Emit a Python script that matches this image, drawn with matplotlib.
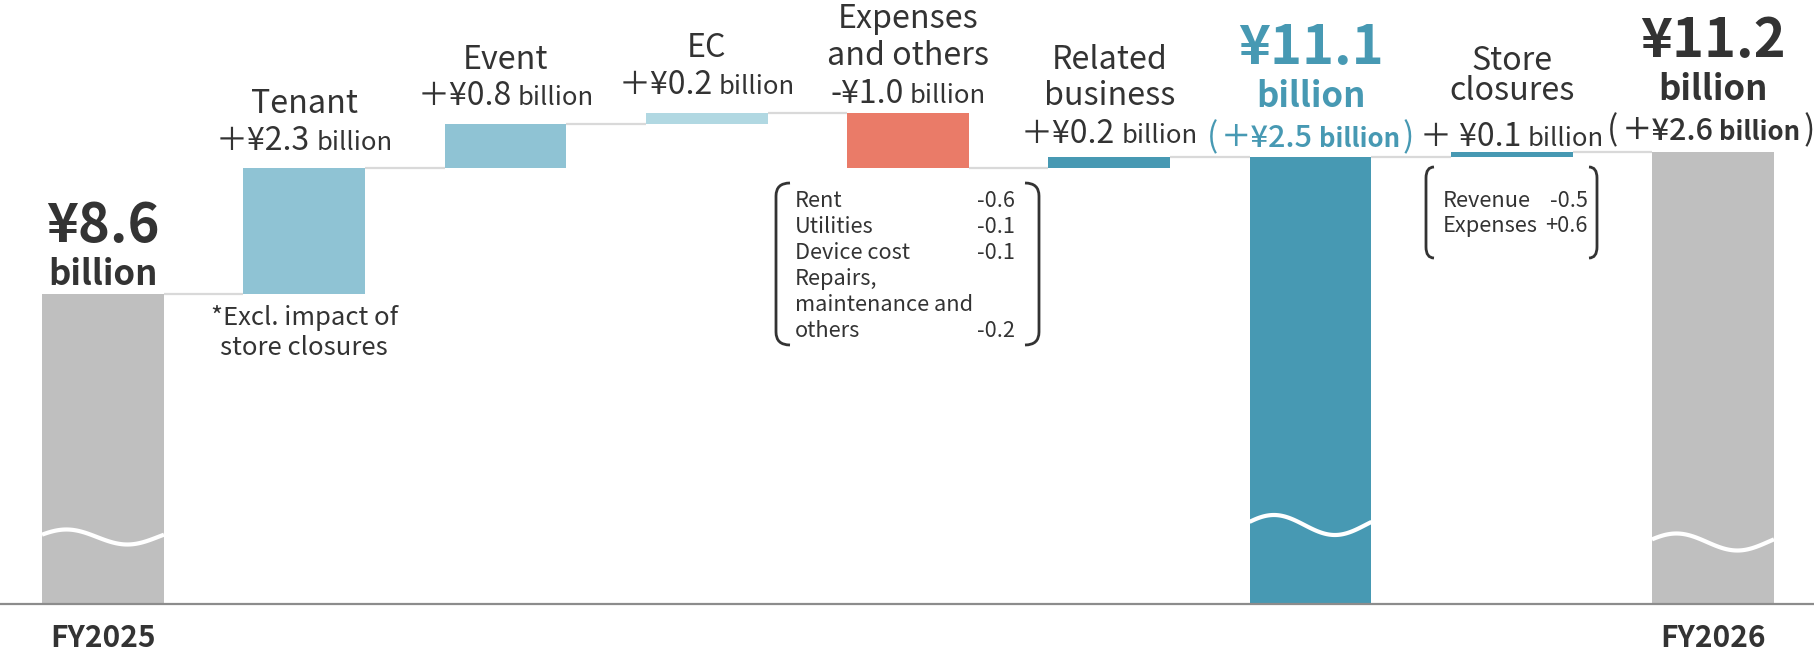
import numpy as np
import matplotlib.pyplot as plt
from matplotlib.path import Path
from matplotlib.patches import PathPatch
from matplotlib.transforms import offset_copy

plt.rcParams['font.family'] = ['Noto Sans CJK JP', 'DejaVu Sans']

# operating profit bridge FY2025 -> FY2026, billion yen
labels = ["FY2025", "Tenant", "Event", "EC", "Expenses\nand others",
          "Related\nbusiness", "", "Store\nclosures", "FY2026"]
kinds = ["total", "step", "step", "step", "step", "step", "total", "step", "total"]
values = [8.6, 2.3, 0.8, 0.2, -1.0, 0.2, 11.1, 0.1, 11.2]

expense_items = ["Rent", "Utilities", "Device cost", "Repairs,\nmaintenance and\nothers"]
expense_vals = ["-0.6", "-0.1", "-0.1", "-0.2"]
closure_items = ["Revenue", "Expenses"]
closure_vals = ["-0.5", "+0.6"]
note = "*Excl. impact of\nstore closures"

DARK = "#333333"
GRAY = "#bfbfbf"
LIGHT = "#8fc3d4"
PALE = "#b1d8e2"
RED = "#ea7b68"
TEAL = "#4799b3"
colors = [GRAY, LIGHT, LIGHT, PALE, RED, TEAL, TEAL, TEAL, GRAY]

W, H = 1815, 651
fig = plt.figure(figsize=(W / 100, H / 100), dpi=100)
ax = fig.add_axes([0, 0, 1, 1])

# pixel <-> data helpers (broken value axis, bottom at ~2.9)
X0, DX = 103, 201.25
PPB = 54.8
Y_TOP = 13.965


def xp(p):
    return (p - X0) / DX


def yp(p):
    return Y_TOP - p / PPB


ax.set_xlim(xp(0), xp(W))
ax.set_ylim(yp(H), yp(0))
ax.axis('off')
floor = yp(604)
bw = 0.606

x = np.arange(len(values))
bottoms, tops, levels = [], [], []
level = 0.0
for k, v in zip(kinds, values):
    if k == "total":
        bottoms.append(floor)
        tops.append(v)
        level = v
    else:
        bottoms.append(min(level, level + v))
        tops.append(max(level, level + v))
        level += v
    levels.append(level)
heights = np.array(tops) - np.array(bottoms)
ax.bar(x, heights, bottom=bottoms, width=bw, color=colors, zorder=2)

# connectors
for i in range(len(values) - 1):
    ax.plot([x[i] + bw / 2, x[i + 1] - bw / 2], [levels[i]] * 2,
            color="#d9d9d9", lw=1.6, zorder=1, solid_capstyle='butt')

# baseline
ax.plot([xp(0), xp(W)], [floor, floor], color="#8c8c8c", lw=1.6, zorder=3)

# break waves on total bars
wave_y = {0: (537, 7.5), 6: (525, 10), 8: (542, 8.5)}
t = np.linspace(0, 1, 100)
for i, (c, a) in wave_y.items():
    ax.plot(x[i] - bw / 2 + bw * t, yp(c) + a / PPB * np.sin(2 * np.pi * (t + 0.05)),
            color="white", lw=3, zorder=4, solid_capstyle='butt')


def rich(xc, py, parts, color=DARK, dx=0):
    # parts: (text, size, weight, gap before in px)
    r = fig.canvas.get_renderer()
    objs = [ax.text(xc, yp(py), s, fontsize=fs, fontweight=fw, color=color,
                    ha='left', va='baseline') for s, fs, fw, g in parts]
    ws = [o.get_window_extent(r).width for o in objs]
    gaps = [0] + [p[3] for p in parts[1:]]
    cur = dx - (sum(ws) + sum(gaps)) / 2
    for o, w, g in zip(objs, ws, gaps):
        cur += g
        o.set_transform(offset_copy(ax.transData, fig=fig, x=cur, y=0, units='dots'))
        cur += w


def fmt(v):
    return ("＋¥" if v > 0 else "-¥") + f"{abs(v):.1f}"


# step labels
CAT_FS = 23.2
cat_base = {1: [113], 2: [69], 3: [57], 4: [28, 65], 5: [69, 105], 7: [70, 100]}
val_base = {1: 150, 2: 105, 3: 94, 4: 103, 5: 143, 7: 146}
for i, lines in cat_base.items():
    for s, b in zip(labels[i].split("\n"), lines):
        ax.text(x[i], yp(b), s, fontsize=CAT_FS, color=DARK, ha='center', va='baseline')
    vt = fmt(values[i])
    if i == 7:
        vt = vt.replace("＋", "＋ ")
    rich(x[i], val_base[i], [(vt, 23, 'normal', 0), ("billion", 18.5, 'normal', 6)])

# totals
total_base = {0: (242, 285, None), 6: (64, 107, 147), 8: (57, 100, 140)}
for i, (b1, b2, b3) in total_base.items():
    col = TEAL if i == 6 else DARK
    ax.text(x[i], yp(b1), f"¥{values[i]:.1f}", fontsize=39, fontweight='bold',
            color=col, ha='center', va='baseline')
    ax.text(x[i], yp(b2), "billion", fontsize=25, fontweight='bold',
            color=col, ha='center', va='baseline')
    if b3 is not None:
        diff = values[i] - values[0]
        rich(x[i], b3, [("(", 24, 'normal', 0), (fmt(diff), 22, 'medium', 3),
                        ("billion", 18.5, 'bold', 6), (")", 24, 'normal', 3)],
             color=col, dx=-2 if i == 8 else 0)

# category axis labels
for i in (0, 8):
    ax.text(x[i], yp(647), labels[i], fontsize=21.5, fontweight='bold',
            color=DARK, ha='center', va='baseline')

# note under Tenant
for s, b in zip(note.split("\n"), [325, 355]):
    ax.text(x[1], yp(b), s, fontsize=18.5, color=DARK, ha='center', va='baseline')


def bracket(xo, xi, top, bottom, r=13):
    verts = [(xi, top), (xo, top), (xo, top + r), (xo, bottom - r), (xo, bottom), (xi, bottom)]
    codes = [Path.MOVETO, Path.CURVE3, Path.CURVE3, Path.LINETO, Path.CURVE3, Path.CURVE3]
    pts = [(xp(a), yp(b)) for a, b in verts]
    ax.add_patch(PathPatch(Path(pts, codes), fill=False, ec=DARK, lw=2, zorder=5))


def breakdown(items, vals, left, right, first, step):
    n = 0
    for item, v in zip(items, vals):
        for s in item.split("\n"):
            ax.text(xp(left), yp(first + n * step), s, fontsize=15.7, color=DARK,
                    ha='left', va='baseline')
            n += 1
        ax.text(xp(right), yp(first + (n - 1) * step), v, fontsize=15.7, color=DARK,
                ha='right', va='baseline')


breakdown(expense_items, expense_vals, 795, 1015, 207, 26)
bracket(776, 790, 183, 345)
bracket(1039, 1025, 183, 345)

breakdown(closure_items, closure_vals, 1443, 1588, 207, 25)
bracket(1426, 1434, 167, 258, r=11)
bracket(1597, 1589, 167, 258, r=11)

fig.savefig("out.png", dpi=100)
